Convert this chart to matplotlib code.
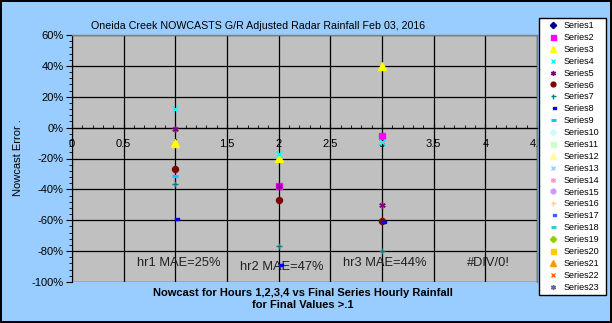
import numpy as np
import matplotlib.pyplot as plt
from matplotlib.path import Path
from matplotlib.ticker import MultipleLocator, FuncFormatter

plt.rcParams['font.family'] = ['Liberation Sans', 'DejaVu Sans']

nan = np.nan
hours = [1, 2, 3, 4]

# nowcast error (%) per hour
err_s1 = [nan, nan, nan, nan]
err_s2 = [nan, -37.6, -5.2, nan]
err_s3 = [-10.0, -19.6, 40.0, nan]
err_s4 = [12.3, -16.8, -9.5, nan]
err_s5 = [-0.6, -37.6, -50.0, nan]
err_s6 = [-26.5, -47.0, -60.7, nan]
err_s7 = [-36.5, -76.5, -80.0, nan]
err_s8 = [-59.0, -89.0, -61.0, nan]
err_s9 = [-31.5, nan, nan, nan]
err_empty = [nan, nan, nan, nan]

series_values = [err_s1, err_s2, err_s3, err_s4, err_s5, err_s6, err_s7,
                 err_s8, err_s9] + [err_empty] * 14
series_names = ["Series%d" % i for i in range(1, 24)]

mae_text = ["hr1 MAE=25%", "hr2 MAE=47%", "hr3 MAE=44%", "#DIV/0!"]

colors = ['#000080', '#FF00FF', '#FFFF00', '#00FFFF', '#800080', '#800000',
          '#008080', '#0000FF', '#00CCFF', '#CCFFFF', '#CCFFCC', '#FFFF99',
          '#99CCFF', '#FF99CC', '#CC99FF', '#FFCC99', '#3366FF', '#33CCCC',
          '#99CC00', '#FFCC00', '#FF9900', '#FF6600', '#666699']

short_dash = Path([(0, -0.3), (1, -0.3), (1, 0.3), (0, 0.3), (0, -0.3)],
                  [Path.MOVETO, Path.LINETO, Path.LINETO, Path.LINETO, Path.CLOSEPOLY])
star = (6, 2, 0)
# marker style cycle used by Excel: diamond, square, triangle, x, star, circle, plus, short dash, long dash
styles = [('D', 4.0, 1), ('s', 4.5, 1), ('^', 6.0, 1), ('x', 4.0, 1), (star, 4.5, 1),
          ('o', 4.3, 1), ('+', 4.5, 1), (short_dash, 6.0, 1), ('_', 4.5, 2.2)]

fig = plt.figure(figsize=(6.12, 3.23), dpi=100)
fig.patch.set_facecolor('#99CCFF')
fig.patch.set_edgecolor('black')
fig.patch.set_linewidth(1.5)

ax = fig.add_axes([72 / 612, 41 / 323, 465 / 612, 247 / 323])
ax.set_facecolor('#C0C0C0')

for i, (vals, name) in enumerate(zip(series_values, series_names)):
    m, ms, mew = styles[i % len(styles)]
    ax.plot(hours, vals, linestyle='none', marker=m, markersize=ms,
            markeredgewidth=mew, color=colors[i], markeredgecolor=colors[i],
            label=name, zorder=3 + i * 0.01, clip_on=False)

ax.set_xlim(0, 4.5)
ax.set_ylim(-100, 60)
ax.xaxis.set_major_locator(MultipleLocator(0.5))
ax.xaxis.set_minor_locator(MultipleLocator(0.1))
ax.yaxis.set_major_locator(MultipleLocator(20))
ax.yaxis.set_minor_locator(MultipleLocator(4))
ax.xaxis.set_major_formatter(FuncFormatter(lambda v, p: '%g' % v))
ax.yaxis.set_major_formatter(FuncFormatter(lambda v, p: '%d%%' % round(v)))
ax.grid(True, which='major', color='black', linewidth=0.9)
ax.set_axisbelow(True)

ax.spines['bottom'].set_position(('data', 0))
for s in ['top', 'right']:
    ax.spines[s].set_color('#808080')
    ax.spines[s].set_linewidth(1.0)
ax.spines['left'].set_color('black')
ax.spines['bottom'].set_color('black')

ax.tick_params(axis='x', which='both', direction='in', labelsize=8, pad=8,
               colors='black')
ax.tick_params(axis='x', which='major', length=3)
ax.tick_params(axis='x', which='minor', length=2)
ax.tick_params(axis='y', which='major', direction='out', length=4, labelsize=8, pad=2)
ax.tick_params(axis='y', which='minor', direction='out', length=2)

for h, t in zip(hours, mae_text):
    dy = -90.5 if h == 2 else -87.5
    ax.text(h + 0.03, dy, t, ha='center', va='center', fontsize=9.3, color='#202020')

fig.text(258 / 612, 1 - 26 / 323,
         "Oneida Creek NOWCASTS G/R Adjusted Radar Rainfall Feb 03, 2016",
         ha='center', va='center', fontsize=7.7)
fig.text(18 / 612, 1 - 158 / 323, "Nowcast Error .", rotation=90,
         ha='center', va='center', fontsize=8)
fig.text(303 / 612, 1 - 299 / 323,
         "Nowcast for Hours 1,2,3,4 vs Final Series Hourly Rainfall\nfor Final Values >.1",
         ha='center', va='center', fontsize=8, fontweight='bold', linespacing=1.2)

leg_top = 1 - 18 / 323
leg = fig.legend(loc='upper left', bbox_to_anchor=(539 / 612, leg_top - 0.5, 67 / 612, 0.5),
                 mode='expand', fontsize=6.5, frameon=True, fancybox=False,
                 edgecolor='black', framealpha=1, facecolor='white',
                 labelspacing=0.32, handlelength=2.3, handletextpad=0.1,
                 borderpad=0.35, borderaxespad=0, markerscale=0.8)
leg.get_frame().set_linewidth(1.0)

fig.savefig('out.png', dpi=100, facecolor=fig.get_facecolor(), edgecolor='black')
